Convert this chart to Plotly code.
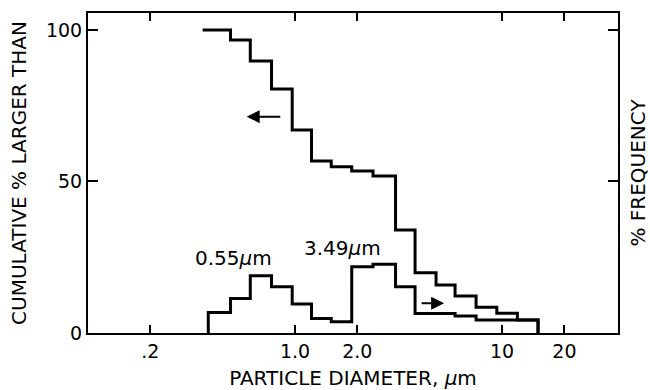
import numpy as np
import plotly.graph_objects as go

# bin edges (particle diameter, um)
bin_edges = [0.488, 0.608, 0.770, 0.969, 1.201, 1.496, 1.879, 2.381, 3.059,
             3.80, 4.80, 5.93, 7.49, 9.43, 11.86, 14.92]
cum_start = 0.358
freq_start = 0.381

# cumulative % larger than, per bin
cumulative = [100, 96.7, 89.8, 80.5, 67.0, 56.8, 54.9, 53.5, 51.8,
              34.0, 19.9, 15.8, 12.2, 8.5, 6.5, 4.3]
# % frequency, per bin
frequency = [6.8, 11.4, 18.9, 15.3, 9.6, 4.8, 3.7, 21.9, 22.7,
             15.3, 6.4, 6.4, 5.6, 4.3, 4.3, 4.3]

x_ticks = [0.2, 1, 2, 10, 20]
x_ticktext = [".2", "1.0", "2.0", "10", "20"]
y_ticks = [0, 50, 100]

peak_labels = ["0.55<i>\u03bc</i>m", "3.49<i>\u03bc</i>m"]
peak_pos = [(0.507, 24.6), (1.70, 28.0)]

FONT = "DejaVu Sans"

cx = [cum_start] + bin_edges + [bin_edges[-1]]
cy = [cumulative[0]] + cumulative + [0]
fx = [freq_start] + bin_edges + [bin_edges[-1]]
fy = [0] + frequency + [0]

fig = go.Figure()
fig.add_trace(go.Scatter(x=cx, y=cy, mode="lines", line_shape="vh",
                         line=dict(color="black", width=3), showlegend=False))
fig.add_trace(go.Scatter(x=fx, y=fy, mode="lines", line_shape="vh", yaxis="y2",
                         line=dict(color="black", width=3), showlegend=False))

for txt, (px, py) in zip(peak_labels, peak_pos):
    fig.add_annotation(x=np.log10(px), y=py, text=txt, showarrow=False,
                       font=dict(family=FONT, size=20, color="black"))

# direction arrows
fig.add_annotation(x=np.log10(0.584), y=71.4, ax=np.log10(0.863), ay=71.4,
                   xref="x", yref="y", axref="x", ayref="y", text="",
                   showarrow=True, arrowhead=2, arrowsize=1.3, arrowwidth=2,
                   arrowcolor="black")
fig.add_annotation(x=np.log10(5.25), y=9.8, ax=np.log10(4.02), ay=9.8,
                   xref="x", yref="y", axref="x", ayref="y", text="",
                   showarrow=True, arrowhead=2, arrowsize=1.3, arrowwidth=2,
                   arrowcolor="black")

fig.update_layout(
    width=650, height=390,
    margin=dict(l=88, r=32, t=13, b=57),
    paper_bgcolor="white", plot_bgcolor="white",
    font=dict(family=FONT, size=20, color="black"),
    xaxis=dict(type="log", range=[-1.0, 1.56], tickvals=x_ticks, ticktext=x_ticktext,
               ticks="inside", ticklen=8, tickwidth=2, tickcolor="black",
               showline=True, linewidth=2, linecolor="black", mirror="ticks",
               showgrid=False, zeroline=False, automargin=False,
               tickfont=dict(family=FONT, size=19),
               title=dict(text="PARTICLE DIAMETER, <i>\u03bc</i>m", standoff=14,
                          font=dict(family=FONT, size=20))),
    yaxis=dict(range=[0, 105.6], tickvals=y_ticks,
               ticks="inside", ticklen=10, tickwidth=2, tickcolor="black",
               showline=True, linewidth=2, linecolor="black", mirror="ticks",
               showgrid=False, zeroline=False, automargin=False,
               tickfont=dict(family=FONT, size=19),
               title=dict(text="CUMULATIVE % LARGER THAN", standoff=14,
                          font=dict(family=FONT, size=20))),
    yaxis2=dict(range=[0, 105.6], overlaying="y", side="right",
                showticklabels=False, ticks="", showline=False, showgrid=False,
                zeroline=False, automargin=False,
                title=dict(text="% FREQUENCY", standoff=19,
                           font=dict(family=FONT, size=20))),
)

fig.write_html("out.html")
